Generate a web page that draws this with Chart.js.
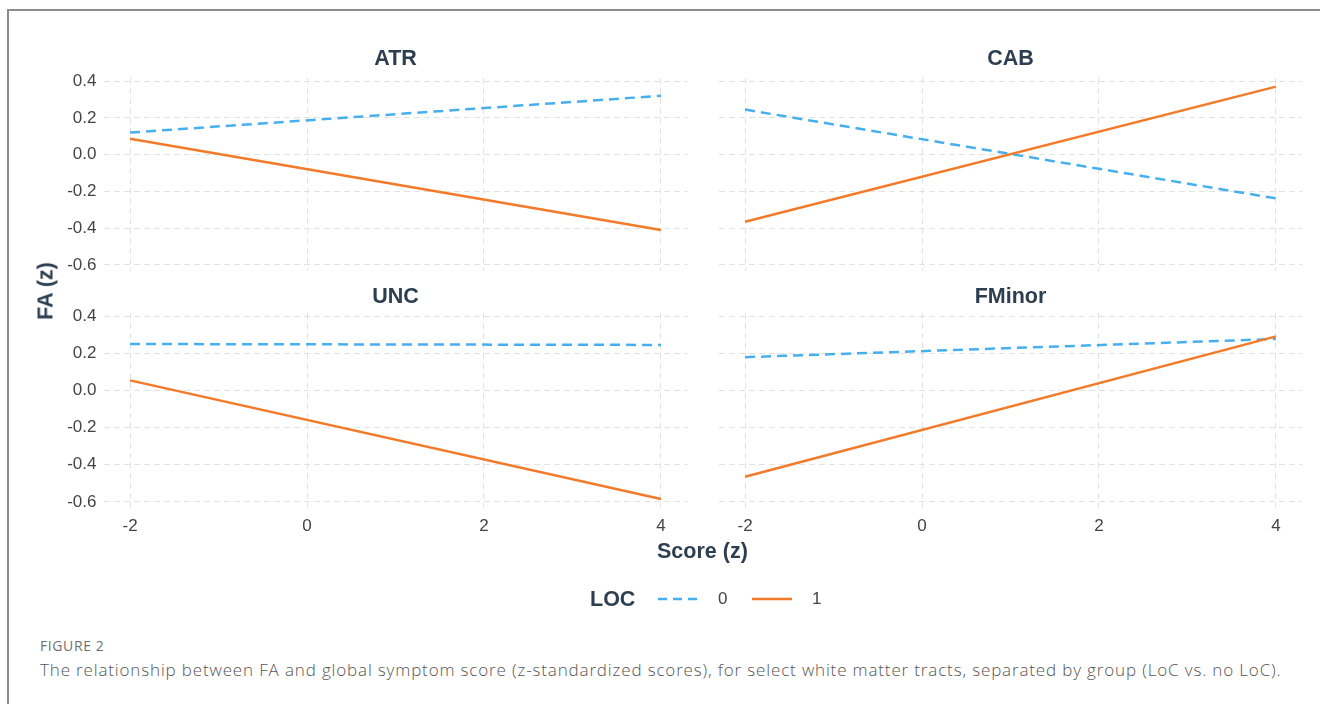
<!DOCTYPE html>
<html>
<head>
<meta charset="utf-8">
<script src="https://cdn.jsdelivr.net/npm/chart.js@4.4.1/dist/chart.umd.min.js"></script>
<style>
  body { margin: 0; width: 1320px; height: 704px; background: #fff; overflow: hidden; position: relative; font-family: "Liberation Sans", Arial, sans-serif; }
  .frame { position: absolute; left: 7px; top: 9px; width: 1400px; height: 800px; border-left: 2px solid #8c8c8c; border-top: 2px solid #8c8c8c; }
  canvas { position: absolute; }
  .axis-title { position: absolute; font-weight: bold; font-size: 21.5px; color: #2c3e50; white-space: nowrap; }
  .legend-item { position: absolute; font-size: 17px; color: #444; }
  .caption-label { position: absolute; left: 40px; top: 636px; font-family: "Open Sans", sans-serif; font-size: 14px; letter-spacing: 0.6px; color: #707070; }
  .caption { position: absolute; left: 40px; top: 658px; font-family: "Open Sans", sans-serif; font-weight: 300; font-size: 17px; letter-spacing: 0.85px; color: #555; white-space: nowrap; }
</style>
</head>
<body>
<div class="frame"></div>
<canvas id="atr" width="700" height="291" style="left:0;top:0"></canvas>
<canvas id="cab" width="620" height="291" style="left:700px;top:0"></canvas>
<canvas id="unc" width="700" height="290" style="left:0;top:262px"></canvas>
<canvas id="fminor" width="620" height="290" style="left:700px;top:262px"></canvas>

<div class="axis-title" style="left:657px;top:539px">Score (z)</div>
<div class="axis-title" style="left:46px;top:291px;transform:translate(-50%,-50%) rotate(-90deg)">FA (z)</div>

<div id="legend"></div>

<div class="caption-label">FIGURE 2</div>
<div class="caption">The relationship between FA and global symptom score (z-standardized scores), for select white matter tracts, separated by group (LoC vs. no LoC).</div>

<script>
// facet titles and x positions of the fitted lines
const panelNames = ["ATR", "CAB", "UNC", "FMinor"];
const scoreX = [-2, 4];

// FA (z) at score -2 and 4, LOC = 0 (no LoC) and LOC = 1
const atrLoc0 = [0.12, 0.32];
const atrLoc1 = [0.086, -0.41];
const cabLoc0 = [0.245, -0.238];
const cabLoc1 = [-0.365, 0.37];
const uncLoc0 = [0.25, 0.245];
const uncLoc1 = [0.054, -0.585];
const fminorLoc0 = [0.179, 0.277];
const fminorLoc1 = [-0.465, 0.291];

const xTicks = [-2, 0, 2, 4];
const yTicks = [-0.6, -0.4, -0.2, 0.0, 0.2, 0.4];
const groupNames = ["0", "1"];

const blue = "#47aff0";
const orange = "#f37a29";
const gridColor = "#e2e2e2";
const tickFont = { family: "Liberation Sans", size: 17 };

function toPoints(ys) {
  return scoreX.map((x, i) => ({ x: x, y: ys[i] }));
}

function makePanel(id, title, loc0, loc1, opts) {
  const ctx = document.getElementById(id).getContext("2d");
  return new Chart(ctx, {
    type: "scatter",
    data: {
      datasets: [
        {
          label: groupNames[1],
          data: toPoints(loc1),
          showLine: true,
          borderColor: orange,
          borderWidth: 2.5,
          pointRadius: 0,
          order: 0,
        },
        {
          label: groupNames[0],
          data: toPoints(loc0),
          showLine: true,
          borderColor: blue,
          borderWidth: 2.5,
          borderDash: [10, 6],
          pointRadius: 0,
          order: 1,
        },
      ],
    },
    options: {
      responsive: false,
      animation: false,
      layout: { padding: opts.padding },
      plugins: {
        legend: { display: false },
        tooltip: { enabled: false },
        title: {
          display: true,
          text: title,
          fullSize: false,
          color: "#2c3e50",
          font: { family: "Liberation Sans", size: 21.5, weight: "bold", lineHeight: 1.2 },
          padding: { top: 0, bottom: opts.titleGap },
        },
      },
      scales: {
        x: {
          type: "linear",
          min: -2.3,
          max: 4.3,
          afterBuildTicks: (s) => { s.ticks = xTicks.map((v) => ({ value: v })); },
          afterFit: (s) => { s.height = opts.xHeight; },
          ticks: {
            display: opts.xLabels,
            padding: 8,
            color: "#444",
            font: tickFont,
            maxRotation: 0,
            callback: (v) => String(v),
          },
          grid: { color: gridColor, lineWidth: 1, drawTicks: false },
          border: { display: false, dash: [6, 4] },
        },
        y: {
          min: -0.633,
          max: 0.418,
          afterBuildTicks: (s) => { s.ticks = yTicks.map((v) => ({ value: v })); },
          afterFit: (s) => { s.width = opts.yWidth; },
          ticks: {
            display: opts.yLabels,
            padding: 7,
            color: "#444",
            font: tickFont,
            callback: (v) => v.toFixed(1),
          },
          grid: { color: gridColor, lineWidth: 1, drawTicks: false },
          border: { display: false, dash: [6, 4] },
        },
      },
    },
  });
}

makePanel("atr", panelNames[0], atrLoc0, atrLoc1, {
  padding: { top: 46, left: 0, right: 12.5, bottom: 20 },
  titleGap: 6, yWidth: 103.5, xHeight: 0, xLabels: false, yLabels: true,
});
makePanel("cab", panelNames[1], cabLoc0, cabLoc1, {
  padding: { top: 46, left: 0, right: 17.5, bottom: 20 },
  titleGap: 6, yWidth: 18.5, xHeight: 0, xLabels: false, yLabels: false,
});
makePanel("unc", panelNames[2], uncLoc0, uncLoc1, {
  padding: { top: 22, left: 0, right: 12.5, bottom: 0 },
  titleGap: 3, yWidth: 103.5, xHeight: 44, xLabels: true, yLabels: true,
});
makePanel("fminor", panelNames[3], fminorLoc0, fminorLoc1, {
  padding: { top: 22, left: 0, right: 17.5, bottom: 0 },
  titleGap: 3, yWidth: 18.5, xHeight: 44, xLabels: true, yLabels: false,
});

// shared legend under the panels
const legend = document.getElementById("legend");
legend.innerHTML = `
  <div class="axis-title" style="left:590px;top:587px">LOC</div>
  <svg style="position:absolute;left:658px;top:596px" width="40" height="6">
    <line x1="0" y1="3" x2="40" y2="3" stroke="${blue}" stroke-width="2.5" stroke-dasharray="9,6"/>
  </svg>
  <div class="legend-item" style="left:718px;top:589px">${groupNames[0]}</div>
  <svg style="position:absolute;left:752px;top:596px" width="40" height="6">
    <line x1="0" y1="3" x2="40" y2="3" stroke="${orange}" stroke-width="2.5"/>
  </svg>
  <div class="legend-item" style="left:812px;top:589px">${groupNames[1]}</div>
`;
</script>
</body>
</html>
